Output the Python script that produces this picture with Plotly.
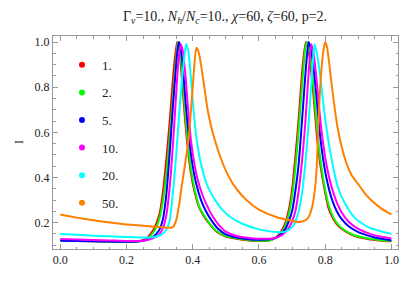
import plotly.graph_objects as go

# ---- data ----
labels = ["1.", "2.", "5.", "10.", "20.", "50."]
colors = ["#FF0000", "#00FF00", "#0000FF", "#FF00FF", "#00FFFF", "#FF8000"]

x_red = [0, 0.05, 0.10, 0.15, 0.20, 0.24, 0.26, 0.27, 0.28, 0.29, 0.30, 0.31, 0.32, 0.33, 0.34, 0.347, 0.353,
         0.358, 0.365, 0.375, 0.385, 0.395, 0.405, 0.42, 0.435, 0.45, 0.47, 0.50, 0.55, 0.60, 0.63, 0.65, 0.67,
         0.68, 0.69, 0.70, 0.71, 0.72, 0.73, 0.737, 0.742, 0.748, 0.755, 0.765, 0.775, 0.785, 0.797, 0.81, 0.825,
         0.84, 0.86, 0.89, 0.93, 0.97, 1.0]
y_red = [0.122, 0.119, 0.117, 0.115, 0.114, 0.119, 0.128, 0.145, 0.165, 0.195, 0.24, 0.335, 0.475, 0.64, 0.83, 0.94, 1.0,
         0.975, 0.88, 0.69, 0.53, 0.415, 0.34, 0.265, 0.225, 0.195, 0.162, 0.138, 0.124, 0.118, 0.121, 0.133, 0.168,
         0.2, 0.255, 0.345, 0.49, 0.66, 0.86, 0.96, 1.0, 0.975, 0.91, 0.76, 0.585, 0.46, 0.355, 0.265, 0.215,
         0.185, 0.162, 0.14, 0.127, 0.12, 0.117]

x_green = [0, 0.05, 0.10, 0.15, 0.20, 0.24, 0.26, 0.28, 0.29, 0.30, 0.31, 0.32, 0.33, 0.34, 0.35, 0.355, 0.36,
           0.367, 0.377, 0.387, 0.397, 0.407, 0.42, 0.435, 0.45, 0.47, 0.50, 0.55, 0.60, 0.63, 0.65, 0.67, 0.68,
           0.69, 0.70, 0.71, 0.72, 0.73, 0.739, 0.744, 0.75, 0.757, 0.767, 0.777, 0.787, 0.797, 0.81, 0.825, 0.84,
           0.86, 0.89, 0.93, 0.97, 1.0]
y_green = [0.122, 0.119, 0.117, 0.115, 0.114, 0.117, 0.124, 0.155, 0.18, 0.22, 0.295, 0.41, 0.57, 0.75, 0.93, 1.0, 0.975,
           0.88, 0.69, 0.53, 0.415, 0.34, 0.27, 0.23, 0.198, 0.165, 0.14, 0.126, 0.12, 0.121, 0.13, 0.16, 0.188,
           0.235, 0.315, 0.44, 0.61, 0.8, 0.96, 1.0, 0.975, 0.91, 0.765, 0.59, 0.465, 0.37, 0.28, 0.222, 0.19,
           0.165, 0.143, 0.13, 0.122, 0.118]

x_blue = [0, 0.05, 0.10, 0.15, 0.20, 0.24, 0.27, 0.29, 0.30, 0.31, 0.32, 0.33, 0.34, 0.35, 0.355, 0.358, 0.363,
          0.37, 0.38, 0.39, 0.40, 0.41, 0.425, 0.44, 0.455, 0.475, 0.50, 0.55, 0.60, 0.64, 0.66, 0.68, 0.69, 0.70,
          0.71, 0.72, 0.73, 0.74, 0.745, 0.75, 0.756, 0.763, 0.773, 0.783, 0.793, 0.805, 0.82, 0.835, 0.85, 0.87,
          0.90, 0.94, 0.97, 1.0]
y_blue = [0.12, 0.118, 0.117, 0.116, 0.115, 0.117, 0.128, 0.15, 0.17, 0.215, 0.32, 0.5, 0.71, 0.9, 0.975, 1.0, 0.98,
          0.89, 0.71, 0.56, 0.45, 0.375, 0.3, 0.25, 0.213, 0.175, 0.148, 0.13, 0.124, 0.128, 0.14, 0.172, 0.205, 0.25,
          0.34, 0.46, 0.65, 0.85, 0.94, 1.0, 0.975, 0.91, 0.77, 0.61, 0.49, 0.39, 0.305, 0.25, 0.215, 0.185,
          0.158, 0.138, 0.128, 0.121]

x_mag = [0, 0.05, 0.10, 0.15, 0.20, 0.25, 0.28, 0.30, 0.31, 0.32, 0.33, 0.34, 0.35, 0.357, 0.364, 0.37, 0.377,
         0.385, 0.395, 0.405, 0.415, 0.43, 0.445, 0.46, 0.48, 0.50, 0.53, 0.57, 0.62, 0.65, 0.67, 0.69, 0.70, 0.71,
         0.72, 0.73, 0.74, 0.75, 0.758, 0.765, 0.773, 0.783, 0.793, 0.805, 0.82, 0.835, 0.85, 0.87, 0.90, 0.94,
         0.97, 1.0]
y_mag = [0.127, 0.125, 0.123, 0.121, 0.119, 0.12, 0.13, 0.15, 0.175, 0.23, 0.35, 0.54, 0.77, 0.92, 0.99, 0.96, 0.87,
         0.72, 0.56, 0.46, 0.39, 0.32, 0.27, 0.228, 0.188, 0.16, 0.142, 0.132, 0.128, 0.132, 0.145, 0.175, 0.205, 0.25,
         0.34, 0.47, 0.64, 0.86, 0.99, 0.95, 0.85, 0.69, 0.56, 0.45, 0.355, 0.29, 0.245, 0.205, 0.172, 0.148,
         0.137, 0.13]

x_cyan = [0, 0.05, 0.10, 0.15, 0.20, 0.25, 0.28, 0.30, 0.31, 0.32, 0.33, 0.335, 0.34, 0.345, 0.35, 0.355, 0.36,
          0.365, 0.37, 0.375, 0.38, 0.385, 0.39, 0.40, 0.41, 0.42, 0.43, 0.44, 0.45, 0.47, 0.49, 0.52, 0.55, 0.60,
          0.65, 0.68, 0.70, 0.71, 0.72, 0.73, 0.74, 0.75, 0.76, 0.765, 0.768, 0.775, 0.785, 0.795, 0.81, 0.825,
          0.84, 0.86, 0.89, 0.93, 0.96, 1.0]
y_cyan = [0.15, 0.146, 0.142, 0.139, 0.136, 0.134, 0.135, 0.143, 0.152, 0.168, 0.206, 0.26, 0.335, 0.41, 0.5, 0.6, 0.7,
          0.79, 0.87, 0.94, 0.99, 0.97, 0.92, 0.74, 0.59, 0.495, 0.43, 0.38, 0.345, 0.295, 0.255, 0.218, 0.195, 0.17,
          0.158, 0.16, 0.18, 0.205, 0.25, 0.33, 0.46, 0.64, 0.86, 0.95, 0.99, 0.95, 0.85, 0.72, 0.56, 0.44,
          0.35, 0.285, 0.22, 0.18, 0.165, 0.15]

x_orange = [0, 0.05, 0.10, 0.15, 0.20, 0.25, 0.30, 0.33, 0.34, 0.35, 0.36, 0.366, 0.375, 0.388, 0.40, 0.405,
            0.411, 0.417, 0.425, 0.435, 0.445, 0.455, 0.465, 0.48, 0.50, 0.52, 0.55, 0.58, 0.60, 0.65, 0.70, 0.72,
            0.74, 0.75, 0.76, 0.77, 0.775, 0.78, 0.785, 0.79, 0.795, 0.80, 0.806, 0.815, 0.825, 0.837, 0.85, 0.865,
            0.88, 0.90, 0.92, 0.94, 0.97, 1.0]
y_orange = [0.236, 0.222, 0.21, 0.2, 0.192, 0.186, 0.18, 0.177, 0.18, 0.21, 0.29, 0.354, 0.44, 0.577, 0.8, 0.9,
            0.975, 0.96, 0.9, 0.8, 0.70, 0.63, 0.575, 0.505, 0.43, 0.375, 0.318, 0.278, 0.258, 0.226, 0.208, 0.203,
            0.21, 0.225, 0.265, 0.36, 0.46, 0.66, 0.8, 0.9, 0.965, 1.0, 0.975, 0.87, 0.75, 0.625, 0.535, 0.46,
            0.41, 0.37, 0.33, 0.298, 0.262, 0.236]

xs = [x_red, x_green, x_blue, x_mag, x_cyan, x_orange]
ys = [y_red, y_green, y_blue, y_mag, y_cyan, y_orange]

x_ticks = [0.0, 0.2, 0.4, 0.6, 0.8, 1.0]
y_ticks = [0.2, 0.4, 0.6, 0.8, 1.0]

SERIF = "Liberation Serif"
AXC = "#999999"
TXT = "#222222"

fig = go.Figure()
for i, (xv, yv) in enumerate(zip(xs, ys)):
    fig.add_trace(go.Scatter(x=xv, y=yv, mode="lines",
                             line=dict(color=colors[i], width=2, shape="spline", smoothing=0.6),
                             showlegend=False, hoverinfo="skip"))
for i, lab in enumerate(labels):
    fig.add_trace(go.Scatter(x=[None], y=[None], mode="markers", name=lab, legendgroup=lab,
                             marker=dict(color=colors[i], size=6)))

axis_common = dict(showline=True, linecolor=AXC, linewidth=1, mirror="allticks", ticks="inside",
                   ticklen=5, tickcolor=AXC, showgrid=False, zeroline=False, automargin=False,
                   tickfont=dict(family=SERIF, size=12, color=TXT),
                   minor=dict(ticks="inside", ticklen=2.5, tickcolor=AXC, dtick=0.05, showgrid=False))

fig.update_xaxes(range=[-0.022, 1.020], tickvals=x_ticks, ticktext=[f"{v:.1f}" for v in x_ticks], **axis_common)
fig.update_yaxes(range=[0.083, 1.027], tickvals=y_ticks, ticktext=[f"{v:.1f}" for v in y_ticks], **axis_common)

fig.add_annotation(text="I", xref="paper", yref="paper", x=-0.1, y=0.5, showarrow=False, textangle=-90,
                   font=dict(family=SERIF, size=12, color=TXT), xanchor="center", yanchor="middle")

fig.update_layout(
    width=415, height=286,
    margin=dict(l=45, r=25, t=28, b=45, autoexpand=False),
    paper_bgcolor="white", plot_bgcolor="white",
    title=dict(text="Γ<sub><i>v</i></sub>=10., <i>N<sub>h</sub></i>/<i>N<sub>c</sub></i>=10., <i>χ</i>=60, <i>ζ</i>=60, p=2.",
               x=0.523, xanchor="center", y=0.972, yanchor="middle",
               font=dict(family=SERIF, size=14, color=TXT)),
    legend=dict(x=0.026, y=0.935, xanchor="left", yanchor="top", bgcolor="rgba(0,0,0,0)",
                font=dict(family=SERIF, size=13, color=TXT), tracegroupgap=7.7, itemwidth=30),
)

fig.write_html("out.html")
